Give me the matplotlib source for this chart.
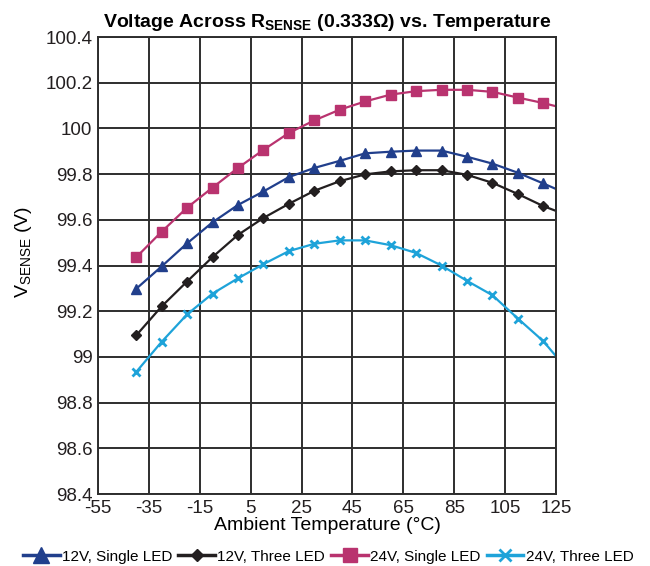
import matplotlib
matplotlib.use('Agg')
import matplotlib.pyplot as plt

plt.rcParams['font.family'] = ['Liberation Sans', 'DejaVu Sans']
plt.rcParams['mathtext.default'] = 'regular'
plt.rcParams['axes.unicode_minus'] = False

# 数据：温度（每10°C一个标记点，末点125只画线）
temps = [-40, -30, -20, -10, 0, 10, 20, 30, 40, 50, 60, 70, 80, 90, 100, 110, 120, 125]
v_12v_single = [99.298, 99.396, 99.497, 99.589, 99.665, 99.724, 99.787, 99.827, 99.858,
                99.891, 99.898, 99.903, 99.903, 99.876, 99.846, 99.806, 99.759, 99.735]
v_12v_three = [99.094, 99.221, 99.330, 99.437, 99.534, 99.608, 99.670, 99.727, 99.769,
               99.799, 99.812, 99.817, 99.817, 99.797, 99.762, 99.713, 99.660, 99.639]
v_24v_single = [99.436, 99.548, 99.653, 99.741, 99.827, 99.906, 99.980, 100.035, 100.082,
                100.118, 100.148, 100.163, 100.169, 100.169, 100.160, 100.135, 100.111, 100.097]
v_24v_three = [98.934, 99.066, 99.186, 99.277, 99.344, 99.406, 99.463, 99.495, 99.510,
               99.510, 99.489, 99.455, 99.400, 99.333, 99.270, 99.168, 99.069, 99.003]

labels = ['12V, Single LED', '12V, Three LED', '24V, Single LED', '24V, Three LED']
x_ticks = [-55, -35, -15, 5, 25, 45, 65, 85, 105, 125]
y_ticks = [98.4, 98.6, 98.8, 99.0, 99.2, 99.4, 99.6, 99.8, 100.0, 100.2, 100.4]

fig = plt.figure(figsize=(6.5, 5.66), dpi=100)
ax = fig.add_axes([0.1508, 0.1272, 0.7046, 0.8074])

grid_col = '#2e2e2e'
# (数值, 颜色, 标记, 图中标记大小, 图例标记大小)
series = [
    (v_12v_single, '#213f8c', '^', 7, 11),
    (v_12v_three, '#231f20', 'D', 5, 6),
    (v_24v_single, '#b9336f', 's', 6.5, 10),
    (v_24v_three, '#1ea3d9', 'x', 6, 9),
]
for (vals, col, mk, ms, _), lab in zip(series, labels):
    ax.plot(temps, vals, color=col, lw=1.6, marker=mk, ms=ms,
            mew=2 if mk == 'x' else 1, markevery=slice(0, 17), label=lab)

ax.set_xlim(-55, 125)
ax.set_ylim(98.4, 100.4)
ax.set_xticks(x_ticks)
ax.set_yticks(y_ticks)
ax.set_yticklabels(['%g' % v for v in y_ticks])
ax.tick_params(length=0, labelsize=13.5, colors='#231f20', pad=4)
ax.grid(True, color=grid_col, lw=1.4)
for s in ax.spines.values():
    s.set_color(grid_col)
    s.set_linewidth(1.4)

ax.set_xlabel('Ambient Temperature (°C)', fontsize=14, labelpad=0)
ax.set_ylabel('V$_{SENSE}$ (V)', fontsize=14)
ax.yaxis.set_label_coords(-0.14, 0.53)
ax.set_title('Voltage Across R$_{SENSE}$ (0.333Ω) vs. Temperature',
             fontsize=14, fontweight='bold', pad=7)

leg = fig.legend(loc='lower center', bbox_to_anchor=(0.505, -0.02), ncol=4, frameon=False,
                 fontsize=11, handlelength=2.4, handletextpad=0.15, columnspacing=0.4)
for h, s in zip(leg.legend_handles, series):
    h.set_markersize(s[4])
    h.set_linewidth(2.5)

plt.savefig('out.png', dpi=100)
